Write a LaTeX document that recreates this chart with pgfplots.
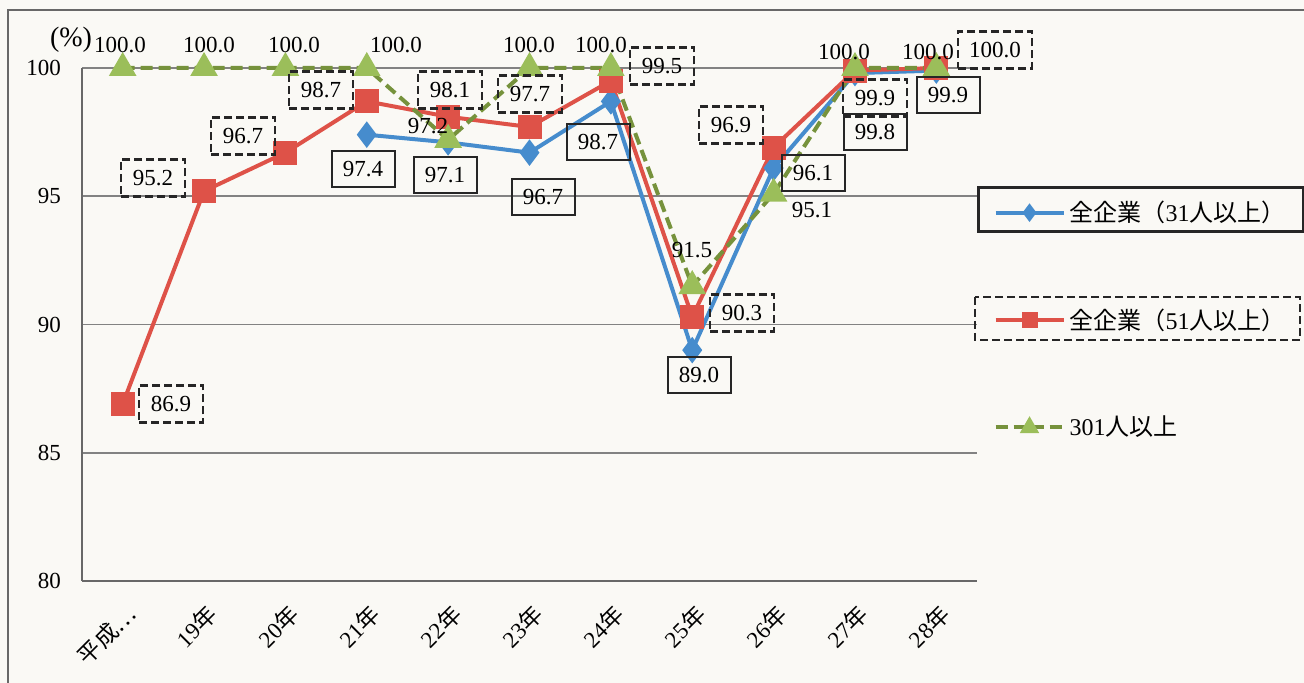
\documentclass[border=0pt]{standalone}
\usepackage{pgfplots}
\pgfplotsset{compat=1.18}
\usepackage{pgfplotstable}
\usepackage{fontspec}
\setmainfont{Liberation Serif}
\newfontfamily\jp{Noto Sans CJK JP}
\definecolor{bg}{RGB}{250,249,245}
\definecolor{cblue}{RGB}{70,140,205}
\definecolor{cred}{RGB}{222,82,72}
\definecolor{cgreen}{RGB}{118,146,60}
\definecolor{cgreenm}{RGB}{155,190,90}
\definecolor{cgrid}{RGB}{130,130,130}

\pgfplotstableread{
x y
3 97.4
4 97.1
5 96.7
6 98.7
7 89.0
8 96.1
9 99.8
10 99.9
}\tblblue
\pgfplotstableread{
x y
0 86.9
1 95.2
2 96.7
3 98.7
4 98.1
5 97.7
6 99.5
7 90.3
8 96.9
9 99.9
10 100.0
}\tblred
\pgfplotstableread{
x y
0 100.0
1 100.0
2 100.0
3 100.0
4 97.2
5 100.0
6 100.0
7 91.5
8 95.1
9 100.0
10 100.0
}\tblgreen

\begin{document}
\begin{tikzpicture}[
  lbl/.style={font=\fontsize{11.5}{13}\selectfont, inner sep=0pt},
  rbox/.style={lbl, draw=black!85, line width=1.3pt, dash pattern=on 4pt off 2pt, minimum width=32pt, minimum height=18.5pt},
  bbox/.style={lbl, draw=black!85, line width=1pt, minimum width=31.5pt, minimum height=18pt}]
\useasboundingbox (0,0) rectangle (652pt,341.5pt);
\fill[bg] (0,0) rectangle (652pt,341.5pt);
\draw[cgrid!80!black, line width=0.8pt] (4pt,-5pt) rectangle (660pt,336.5pt);
\begin{axis}[
  at={(41pt,51pt)}, anchor=south west,
  scale only axis, width=447.5pt, height=256.5pt,
  xmin=-0.5, xmax=10.5, ymin=80, ymax=100,
  clip=false,
  axis x line=bottom, axis y line=left,
  axis line style={-, cgrid!80!black, line width=0.8pt},
  ymajorgrids, grid style={cgrid, line width=0.8pt},
  major tick length=0pt,
  ytick={80,85,90,95,100},
  xtick={0,...,10},
  xticklabels={{\jp 平成…},19{\jp 年},20{\jp 年},21{\jp 年},22{\jp 年},23{\jp 年},24{\jp 年},25{\jp 年},26{\jp 年},27{\jp 年},28{\jp 年}},
  xticklabel style={rotate=45, anchor=north east, font=\fontsize{11.5}{13}\selectfont, inner sep=1pt, yshift=-7pt, xshift=-6pt},
  yticklabel style={anchor=east, font=\fontsize{11.5}{13}\selectfont, xshift=-7pt},
  /pgf/number format/assume math mode=true,
  legend style={draw=none, fill=none, at={(axis description cs:1.018,0.509)}, anchor=west,
    row sep=38pt, font=\fontsize{12}{14}\selectfont, inner sep=0pt,
    /tikz/every even column/.append style={column sep=4pt}},
  legend cell align=left,
  legend image code/.code={\draw[mark repeat=2,mark phase=2,every mark/.append style={scale=0.6}] plot coordinates {(0pt,0pt) (17pt,0pt) (34pt,0pt)};},
]
\addplot[cblue, line width=2pt, mark=diamond*, mark size=5pt, mark options={solid, fill=cblue}] table[x=x,y=y] {\tblblue};
\addlegendentry{{\jp 全企業（}31{\jp 人以上）}}
\addplot[cred, line width=2pt, mark=square*, mark size=5pt, mark options={solid, fill=cred}] table[x=x,y=y] {\tblred};
\addlegendentry{{\jp 全企業（}51{\jp 人以上）}}
\addplot[cgreen, line width=2pt, dash pattern=on 6pt off 3pt, mark=triangle*, mark size=6pt, mark options={solid, draw=cgreenm, fill=cgreenm}] table[x=x,y=y] {\tblgreen};
\addlegendentry{301{\jp 人以上}}
\end{axis}
\begin{scope}[yshift=341.5pt, x=0.5pt, y=-0.5pt]
% (%)
\node[lbl, font=\fontsize{14}{16}\selectfont] at (71,40) {(\%)};
% green labels
\node[lbl] at (120,45) {100.0};
\node[lbl] at (209,45) {100.0};
\node[lbl] at (294,45) {100.0};
\node[lbl] at (396,45) {100.0};
\node[lbl] at (428,126) {97.2};
\node[lbl] at (529,45) {100.0};
\node[lbl] at (601,45) {100.0};
\node[lbl] at (692,250) {91.5};
\node[lbl] at (812,210) {95.1};
\node[lbl] at (844,52) {100.0};
\node[lbl] at (928,52) {100.0};
% red labels
\node[rbox] at (171,404) {86.9};
\node[rbox] at (153,178) {95.2};
\node[rbox] at (243,136) {96.7};
\node[rbox] at (321,90) {98.7};
\node[rbox] at (450,90) {98.1};
\node[rbox] at (530,94) {97.7};
\node[rbox] at (662,66) {99.5};
\node[rbox] at (742,313) {90.3};
\node[rbox] at (731,125) {96.9};
\node[rbox] at (875,98) {99.9};
\node[rbox, minimum width=37pt] at (995,50) {100.0};
% blue labels
\node[bbox] at (363,169) {97.4};
\node[bbox] at (445,175) {97.1};
\node[bbox] at (543,197) {96.7};
\node[bbox] at (598,142) {98.7};
\node[bbox] at (699,375) {89.0};
\node[bbox] at (813,173) {96.1};
\node[bbox] at (875,132) {99.8};
\node[bbox] at (948,95) {99.9};
% legend frames
\draw[black!85, line width=1.5pt] (978,188) rectangle (1303,232);
\draw[black!85, line width=1.3pt, dash pattern=on 4pt off 2pt] (975,297) rectangle (1300,340);
\end{scope}
\end{tikzpicture}
\end{document}
